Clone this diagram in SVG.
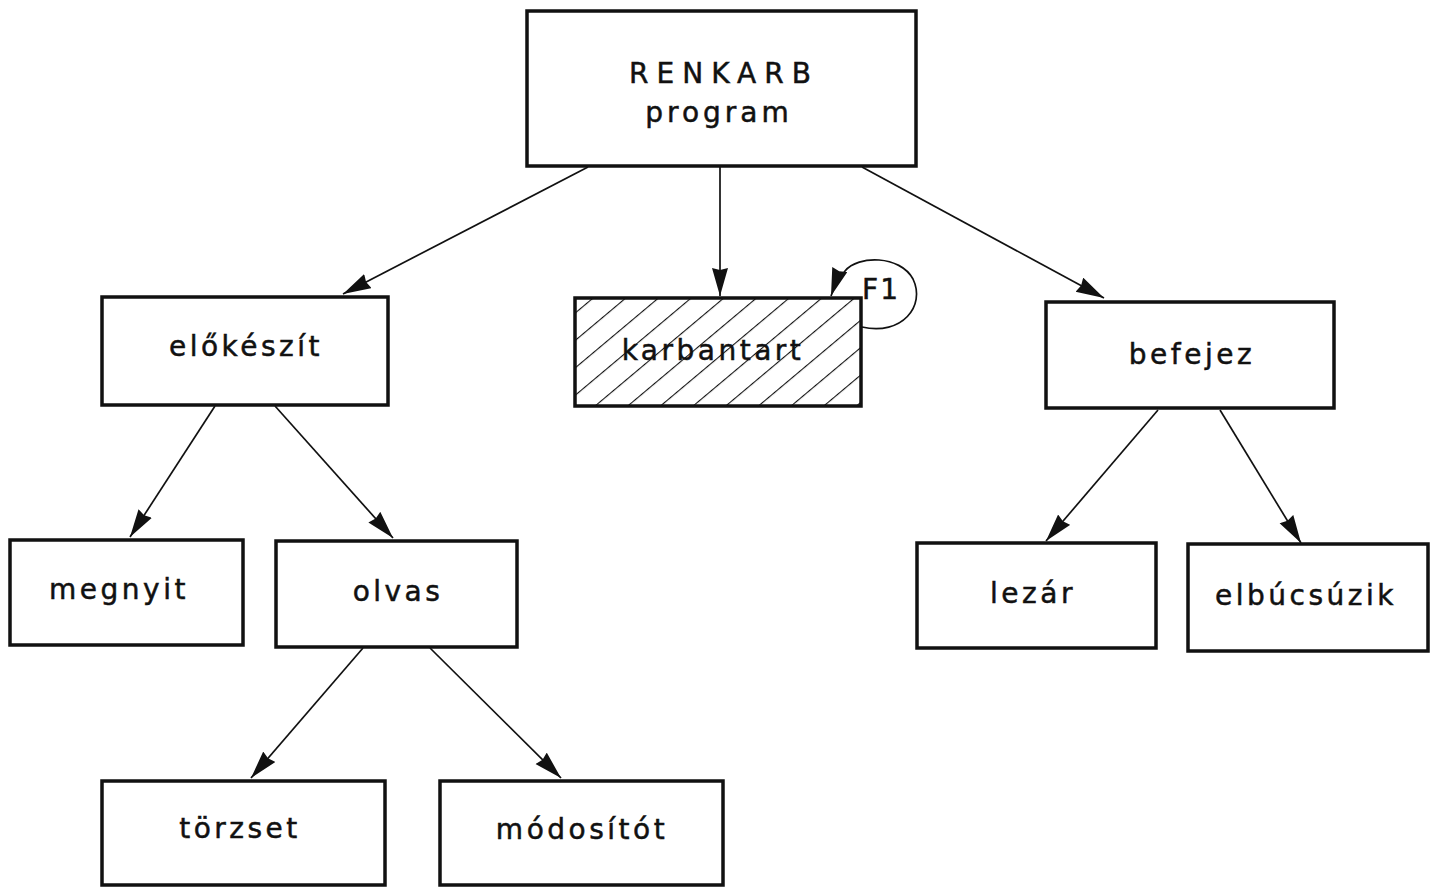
<svg xmlns="http://www.w3.org/2000/svg" width="1440" height="887" viewBox="0 0 1440 887">
  <style>
    .box { fill: #fff; stroke: #111; stroke-width: 3.5; }
    .hatched { fill: url(#hatch); stroke: #111; stroke-width: 3.5; }
    .lbl { font-family: "DejaVu Sans", "Liberation Sans", sans-serif; font-size: 28px; fill: #111; stroke: #111; stroke-width: 0.5; letter-spacing: 3.5px; text-anchor: middle; }
    .conn { fill: none; stroke: #111; stroke-width: 1.7; marker-end: url(#arrow); }
  </style>
  <defs>
    <marker id="arrow" markerUnits="userSpaceOnUse" markerWidth="30" markerHeight="18" refX="28" refY="8" orient="auto">
      <path d="M0,0 L28,8 L0,16 L2,8 Z" fill="#111"/>
    </marker>
    <pattern id="hatch" patternUnits="userSpaceOnUse" width="21" height="21" patternTransform="rotate(50)">
      <rect width="21" height="21" fill="#fff"/>
      <line x1="0" y1="0" x2="0" y2="21" stroke="#111" stroke-width="2.2"/>
    </pattern>
  </defs>

  <rect width="1440" height="887" fill="#fff"/>

  <g id="connectors">
    <line class="conn" x1="588" y1="167" x2="343" y2="294"/>
    <line class="conn" x1="720" y1="167" x2="720" y2="296"/>
    <line class="conn" x1="862" y1="167" x2="1104" y2="298"/>
    <line class="conn" x1="215" y1="406" x2="130" y2="537"/>
    <line class="conn" x1="275" y1="406" x2="393" y2="538"/>
    <line class="conn" x1="363" y1="648" x2="251" y2="778"/>
    <line class="conn" x1="430" y1="648" x2="561" y2="778"/>
    <line class="conn" x1="1158" y1="410" x2="1046" y2="541"/>
    <line class="conn" x1="1220" y1="410" x2="1301" y2="543"/>
    <!-- F1 self loop on karbantart -->
    <path class="conn" d="M862,327 C902,336 926,306 913,279 C900,255 858,255 845,271 C838,280 834,287 831,296"/>
    <text class="lbl" x="881" y="299" font-size="22" style="letter-spacing:2px">F1</text>
  </g>

  <g id="renkarb">
    <rect class="box" x="527" y="11" width="389" height="155"/>
    <text class="lbl" x="724" y="83" style="letter-spacing:8px">RENKARB</text>
    <text class="lbl" x="719" y="122" style="letter-spacing:4px">program</text>
  </g>

  <g id="elokeszit">
    <rect class="box" x="102" y="297" width="286" height="108"/>
    <text class="lbl" x="246" y="356">előkészít</text>
  </g>

  <g id="karbantart">
    <rect class="hatched" x="575" y="298" width="286" height="108"/>
    <text class="lbl" x="713" y="360">karbantart</text>
  </g>

  <g id="befejez">
    <rect class="box" x="1046" y="302" width="288" height="106"/>
    <text class="lbl" x="1192" y="364">befejez</text>
  </g>

  <g id="megnyit">
    <rect class="box" x="10" y="540" width="233" height="105"/>
    <text class="lbl" x="119" y="599">megnyit</text>
  </g>

  <g id="olvas">
    <rect class="box" x="276" y="541" width="241" height="106"/>
    <text class="lbl" x="398" y="601">olvas</text>
  </g>

  <g id="lezar">
    <rect class="box" x="917" y="543" width="239" height="105"/>
    <text class="lbl" x="1033" y="603">lezár</text>
  </g>

  <g id="elbucsuzik">
    <rect class="box" x="1188" y="544" width="240" height="107"/>
    <text class="lbl" x="1306" y="605">elbúcsúzik</text>
  </g>

  <g id="torzset">
    <rect class="box" x="102" y="781" width="283" height="104"/>
    <text class="lbl" x="240" y="838">törzset</text>
  </g>

  <g id="modositot">
    <rect class="box" x="440" y="781" width="283" height="104"/>
    <text class="lbl" x="582" y="839">módosítót</text>
  </g>
</svg>
